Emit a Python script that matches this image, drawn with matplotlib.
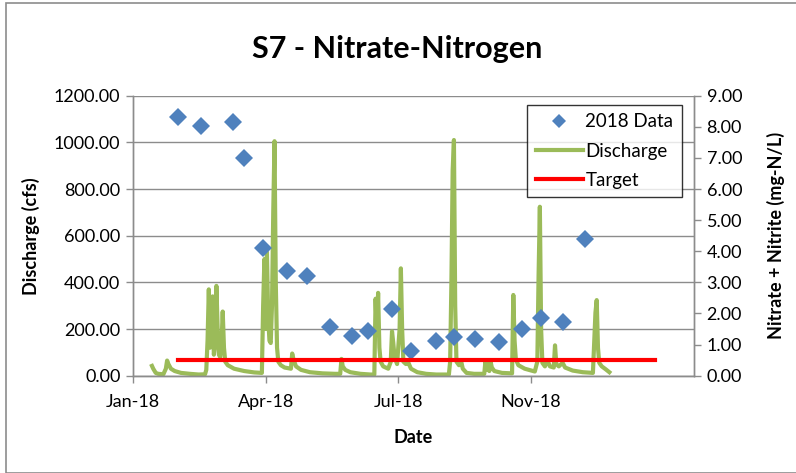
import matplotlib
matplotlib.use("Agg")
import matplotlib.pyplot as plt
from matplotlib.lines import Line2D
from matplotlib.patches import Rectangle
import numpy as np
import pandas as pd

plt.rcParams['font.family'] = ['Lato', 'DejaVu Sans']

START = pd.Timestamp('2018-01-01')

# Nitrate + Nitrite samples (days after 2018-01-01, mg-N/L)
sample_days = [36, 54, 79, 88, 103, 122, 138, 156, 173, 186,
               205, 220, 240, 254, 271, 290, 308, 323, 340, 358]
sample_vals = [8.30, 8.04, 8.14, 7.01, 4.10, 3.37, 3.22, 1.58, 1.29, 1.45,
               2.14, 0.79, 1.13, 1.25, 1.18, 1.09, 1.49, 1.85, 1.74, 4.40]

# Discharge (days after 2018-01-01, cfs)
q_days = [15, 16, 18, 20, 24, 26, 27, 28, 30, 33, 38, 45, 52, 57, 58, 59, 60, 61, 62, 63,
          64, 65, 66, 67, 68, 69, 70, 71, 72, 73, 75, 80, 88, 96, 102, 103, 104, 105, 106, 107,
          108, 109, 110, 111, 112, 113, 114, 115, 117, 120, 125, 126, 127, 129, 133, 140, 150, 160, 164, 165,
          166, 168, 172, 180, 188, 191, 192, 193, 194, 195, 196, 198, 202, 204, 205, 206, 207, 209, 211, 212,
          213, 214, 216, 218, 220, 225, 232, 240, 250, 251, 252, 253, 254, 255, 256, 258, 260, 261, 264, 270,
          278, 279, 280, 281, 282, 283, 284, 286, 292, 300, 301, 302, 303, 305, 310, 318, 320, 321, 322, 323,
          324, 326, 328, 330, 333, 334, 335, 337, 340, 342, 348, 356, 364, 365, 366, 367, 368, 369, 371, 374, 377]
q_vals = [42, 30, 12, 8, 6, 30, 65, 50, 30, 20, 12, 8, 5, 6, 25, 150, 370, 120, 150, 340,
          90, 140, 385, 200, 90, 80, 130, 275, 120, 60, 45, 30, 20, 14, 12, 300, 500, 200, 530, 250,
          150, 140, 300, 700, 1005, 400, 120, 60, 45, 35, 30, 95, 70, 40, 25, 15, 10, 8, 8, 72,
          40, 25, 15, 8, 5, 5, 330, 180, 355, 120, 60, 40, 30, 60, 190, 140, 80, 50, 200, 460,
          200, 60, 50, 55, 30, 15, 8, 5, 5, 60, 400, 880, 1010, 300, 60, 45, 55, 30, 12, 8,
          8, 65, 25, 55, 20, 60, 35, 20, 12, 10, 346, 150, 70, 45, 30, 18, 60, 430, 724, 200,
          55, 40, 65, 40, 35, 130, 50, 40, 55, 35, 22, 15, 12, 140, 270, 324, 120, 55, 40, 28, 15]

# Target (mg-N/L)
target_days = [36, 413]
target_vals = [0.5, 0.5]

x_tick_days = [0, 105, 210, 315]
x_tick_labels = ['Jan-18', 'Apr-18', 'Jul-18', 'Nov-18']

def to_dates(days):
    return START + pd.to_timedelta(days, unit='D')

W, H = 796, 473
fig = plt.figure(figsize=(W / 100, H / 100), dpi=100)
fig.patch.set_facecolor('white')
fig.add_artist(Rectangle((6 / W, 0), 1.2, 1 - 3 / H, transform=fig.transFigure,
                         fill=False, edgecolor='#8c8c8c', linewidth=1.2))

left, right, top, bottom = 133 / W, 694 / W, 1 - 95.7 / H, 1 - 375.7 / H
ax = fig.add_axes([left, bottom, right - left, top - bottom])
ax2 = ax.twinx()

grid_c = '#8c8c8c'
ax.plot(to_dates(q_days), q_vals, color='#9BBB59', lw=3.0, solid_joinstyle='round', zorder=2)
ax2.plot(to_dates(sample_days), sample_vals, linestyle='none', marker='D', ms=9.0,
         color='#4F81BD', markeredgewidth=0, zorder=3)
ax2.plot(to_dates(target_days), target_vals, color='#FF0000', lw=3.0, zorder=4)

ax.set_xlim(START, START + pd.Timedelta(days=444))
ax.set_ylim(0, 1200)
ax2.set_ylim(0, 9)
ax.set_yticks(np.arange(0, 1201, 200))
ax2.set_yticks(np.arange(0, 9.01, 1))
ax.set_yticklabels([f'{v:.2f}' for v in np.arange(0, 1201, 200)])
ax2.set_yticklabels([f'{v:.2f}' for v in np.arange(0, 9.01, 1)])
ax.set_xticks(to_dates(x_tick_days))
ax.set_xticklabels(x_tick_labels)

ax.grid(axis='y', color=grid_c, lw=1.0)
ax.set_axisbelow(True)
for a in (ax, ax2):
    a.spines['top'].set_visible(False)
    for s in ('left', 'right', 'bottom'):
        a.spines[s].set_color(grid_c)
        a.spines[s].set_linewidth(1.0)
    a.tick_params(axis='both', colors=grid_c, labelcolor='black', labelsize=13,
                  length=5, width=1.0, direction='out')
ax.tick_params(axis='y', pad=4)
ax2.tick_params(axis='y', pad=4)
ax.tick_params(axis='x', pad=8)

ax.set_xlabel('Date', fontsize=13, fontweight='bold', labelpad=14)
ax.set_ylabel('Discharge (cfs)', fontsize=13, fontweight='bold', labelpad=10)
ax2.set_ylabel('Nitrate + Nitrite (mg-N/L)', fontsize=13, fontweight='bold', labelpad=18)

fig.text(397 / W, 1 - 49 / H, 'S7 - Nitrate-Nitrogen', ha='center', va='center',
         fontsize=22, fontweight='bold')

handles = [Line2D([], [], linestyle='none', marker='D', ms=7.5, color='#4F81BD', markeredgewidth=0),
           Line2D([], [], color='#9BBB59', lw=3.0),
           Line2D([], [], color='#FF0000', lw=3.0)]
leg = ax2.legend(handles, ['2018 Data', 'Discharge', 'Target'], loc='upper left',
                 bbox_to_anchor=(527.3 / W, 1 - 105 / H), bbox_transform=fig.transFigure,
                 borderaxespad=0, fontsize=13.5, frameon=True, fancybox=False,
                 handlelength=2.5, handletextpad=0.15, borderpad=0.45, labelspacing=0.65)
leg.get_frame().set_edgecolor('black')
leg.get_frame().set_linewidth(1.0)

fig.savefig('out.png', dpi=100)
